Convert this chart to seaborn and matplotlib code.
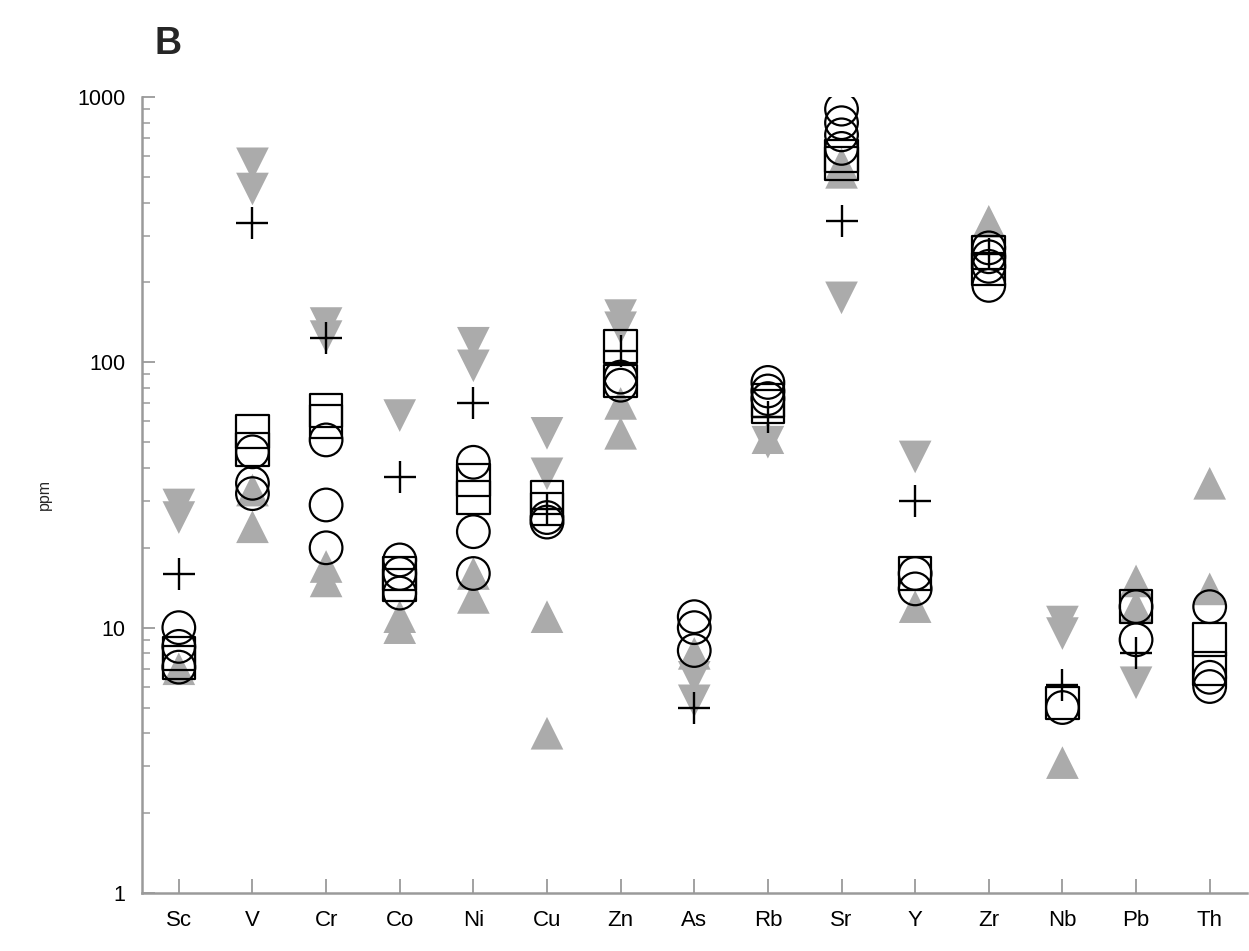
import numpy as np
import pandas as pd
import matplotlib
matplotlib.use("Agg")
import matplotlib.pyplot as plt
from matplotlib.ticker import LogLocator, NullFormatter, FixedLocator, FixedFormatter
import seaborn as sns

# Trace elements along the x axis
elements = ["Sc", "V", "Cr", "Co", "Ni", "Cu", "Zn", "As", "Rb", "Sr", "Y", "Zr", "Nb", "Pb", "Th"]

# Concentrations (ppm) per element for each sample group
up_tri = [[7.0], [33, 24], [17, 15], [11, 10], [16, 13], [11, 4.0], [70, 54], [8.0], [52],
          [560, 520], [12], [340], [3.1], [15, 12], [35, 14]]
down_tri = [[29, 26], [560, 450], [140, 125], [63], [118, 97], [54, 38], [150, 135], [6.5, 5.3],
            [50], [175], [44], [], [10.5, 9.5], [6.2], []]
plus = [[16], [335], [124], [37], [70], [28], [110], [5.0], [62], [340], [30], [255], [6.1], [8.0], []]
squares = [[8.0, 7.4], [55, 47], [66, 60], [16, 14.5], [36, 31], [31, 28], [115, 85], [],
           [72, 68], [600, 560], [16], [260, 225], [5.2], [12], [9, 7]]
circles = [[10, 8.5, 7.1], [46, 35, 32], [51, 29, 20], [18, 16, 13.5], [42, 23, 16], [26, 25],
           [88, 82], [11, 10, 8.2], [84, 78, 73], [900, 800, 720, 640], [16, 14],
           [270, 250, 230, 195], [5.0], [12, 9], [12, 6.5, 6.0]]

y_ticks = [1, 10, 100, 1000]
y_tick_labels = ["1", "10", "100", "1000"]


def long_form(groups, kind):
    rows = []
    for i, vals in enumerate(groups):
        for v in vals:
            rows.append({"pos": i, "element": elements[i], "ppm": v, "kind": kind})
    return pd.DataFrame(rows)


sns.set_style("white")
plt.rcParams["font.family"] = ["Liberation Sans", "DejaVu Sans"]

fig = plt.figure(figsize=(12.49, 9.51), dpi=100)
ax = fig.add_axes([0.1137, 0.061, 0.8843, 0.837])

GRAY = "#ababab"
MS = 23.5 ** 2

# gray triangles underneath, black markers on top
sns.scatterplot(data=long_form(up_tri, "up"), x="pos", y="ppm", marker="^", s=MS,
                color=GRAY, edgecolor="none", linewidth=0, ax=ax, zorder=2, legend=False)
sns.scatterplot(data=long_form(down_tri, "down"), x="pos", y="ppm", marker="v", s=MS,
                color=GRAY, edgecolor="none", linewidth=0, ax=ax, zorder=2, legend=False)
sns.scatterplot(data=long_form(plus, "plus"), x="pos", y="ppm", marker="+", s=MS,
                color="black", linewidth=1.7, ax=ax, zorder=3, legend=False)
sns.scatterplot(data=long_form(squares, "square"), x="pos", y="ppm", marker="s", s=MS,
                facecolor="none", edgecolor="black", linewidth=1.6, ax=ax, zorder=4, legend=False)
sns.scatterplot(data=long_form(circles, "circle"), x="pos", y="ppm", marker="o", s=MS,
                facecolor="none", edgecolor="black", linewidth=1.6, ax=ax, zorder=5, legend=False)

ax.set_yscale("log")
ax.set_ylim(1, 1000)
ax.set_xlim(-0.5, len(elements) - 0.5)

ax.yaxis.set_major_locator(FixedLocator(y_ticks))
ax.yaxis.set_major_formatter(FixedFormatter(y_tick_labels))
ax.yaxis.set_minor_locator(LogLocator(base=10, subs=np.arange(2, 10)))
ax.yaxis.set_minor_formatter(NullFormatter())
ax.set_xticks(range(len(elements)))
ax.set_xticklabels(elements)

ax.set_xlabel("")
ax.set_ylabel("ppm", fontsize=11.5, labelpad=18)

for side in ["top", "right"]:
    ax.spines[side].set_visible(False)
for side in ["left", "bottom"]:
    ax.spines[side].set_color("#9a9a9a")
    ax.spines[side].set_linewidth(1.8)

ax.tick_params(axis="both", which="both", direction="in", color="#9a9a9a", labelcolor="black",
               left=True, bottom=True, top=False, right=False)
ax.tick_params(axis="y", which="major", length=9, width=1.3, labelsize=15.5, pad=12)
ax.tick_params(axis="y", which="minor", length=6, width=1.1)
ax.tick_params(axis="x", which="major", length=10, width=1.3, labelsize=16, pad=12)

fig.text(0.124, 0.943, "B", fontsize=27, fontweight="bold", ha="left", va="baseline")

fig.savefig("out.png", dpi=100, facecolor="white")
